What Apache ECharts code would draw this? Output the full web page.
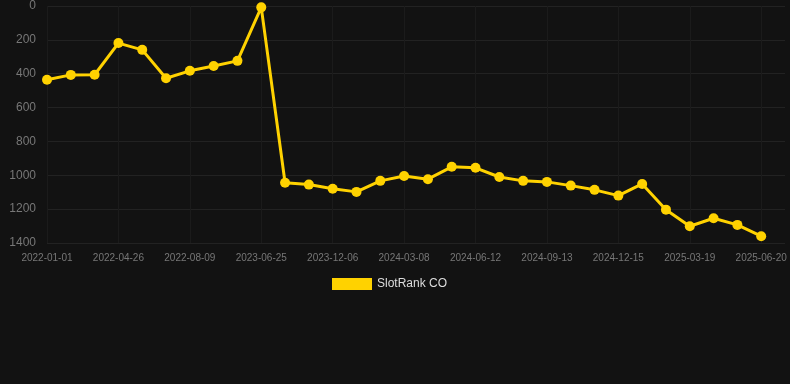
<!DOCTYPE html>
<html>
<head>
<meta charset="utf-8">
<script src="https://cdn.jsdelivr.net/npm/echarts@6/dist/echarts.min.js"></script>
<style>
  html, body { margin: 0; padding: 0; background: #121212; }
  #main { width: 790px; height: 384px; }
</style>
</head>
<body>
<div id="main"></div>
<script>
// dates on the x axis (only every third one is labelled)
var dates = [
  '2022-01-01', '2022-02-08', '2022-03-18', '2022-04-26', '2022-05-31', '2022-07-05',
  '2022-08-09', '2022-11-21', '2023-03-08', '2023-06-25', '2023-08-18', '2023-10-12',
  '2023-12-06', '2024-01-06', '2024-02-06', '2024-03-08', '2024-04-09', '2024-05-11',
  '2024-06-12', '2024-07-13', '2024-08-13', '2024-09-13', '2024-10-14', '2024-11-14',
  '2024-12-15', '2025-01-15', '2025-02-16', '2025-03-19', '2025-04-19', '2025-05-20',
  '2025-06-20', '2025-07-21'
];
// rank values (lower is better, axis inverted)
var rankCO = [
  436, 407, 406, 219, 259, 427, 383, 354, 324, 8, 1044,
  1055, 1080, 1098, 1033, 1004, 1023, 950, 956, 1010, 1033,
  1039, 1061, 1086, 1120, 1051, 1203, 1301, 1254, 1293, 1360, null
];

var myChart = echarts.init(document.getElementById('main'));
myChart.setOption({
  backgroundColor: '#121212',
  animation: false,
  grid: { left: 47, right: 5, top: 6, bottom: 141 },
  legend: {
    data: ['SlotRank CO'],
    top: 273,
    left: 327,
    itemWidth: 40,
    itemHeight: 12,
    itemGap: 6,
    icon: 'rect',
    textStyle: { color: '#ddd', fontSize: 12 }
  },
  xAxis: {
    type: 'category',
    data: dates,
    boundaryGap: false,
    axisLine: { show: false },
    axisTick: { show: false },
    axisLabel: { color: '#777', fontSize: 10, interval: 2, margin: 10 },
    splitLine: { show: true, interval: 2, lineStyle: { color: '#1b1b1b' } }
  },
  yAxis: {
    type: 'value',
    inverse: true,
    min: 0,
    max: 1400,
    interval: 200,
    axisLine: { show: false },
    axisTick: { show: false },
    axisLabel: { color: '#777', fontSize: 12, margin: 11, formatter: function (v) { return String(v); } },
    splitLine: { lineStyle: { color: '#222' } }
  },
  series: [{
    name: 'SlotRank CO',
    type: 'line',
    data: rankCO,
    color: '#FFD200',
    symbol: 'circle',
    symbolSize: 10,
    lineStyle: { width: 3 }
  }]
});
</script>
</body>
</html>
